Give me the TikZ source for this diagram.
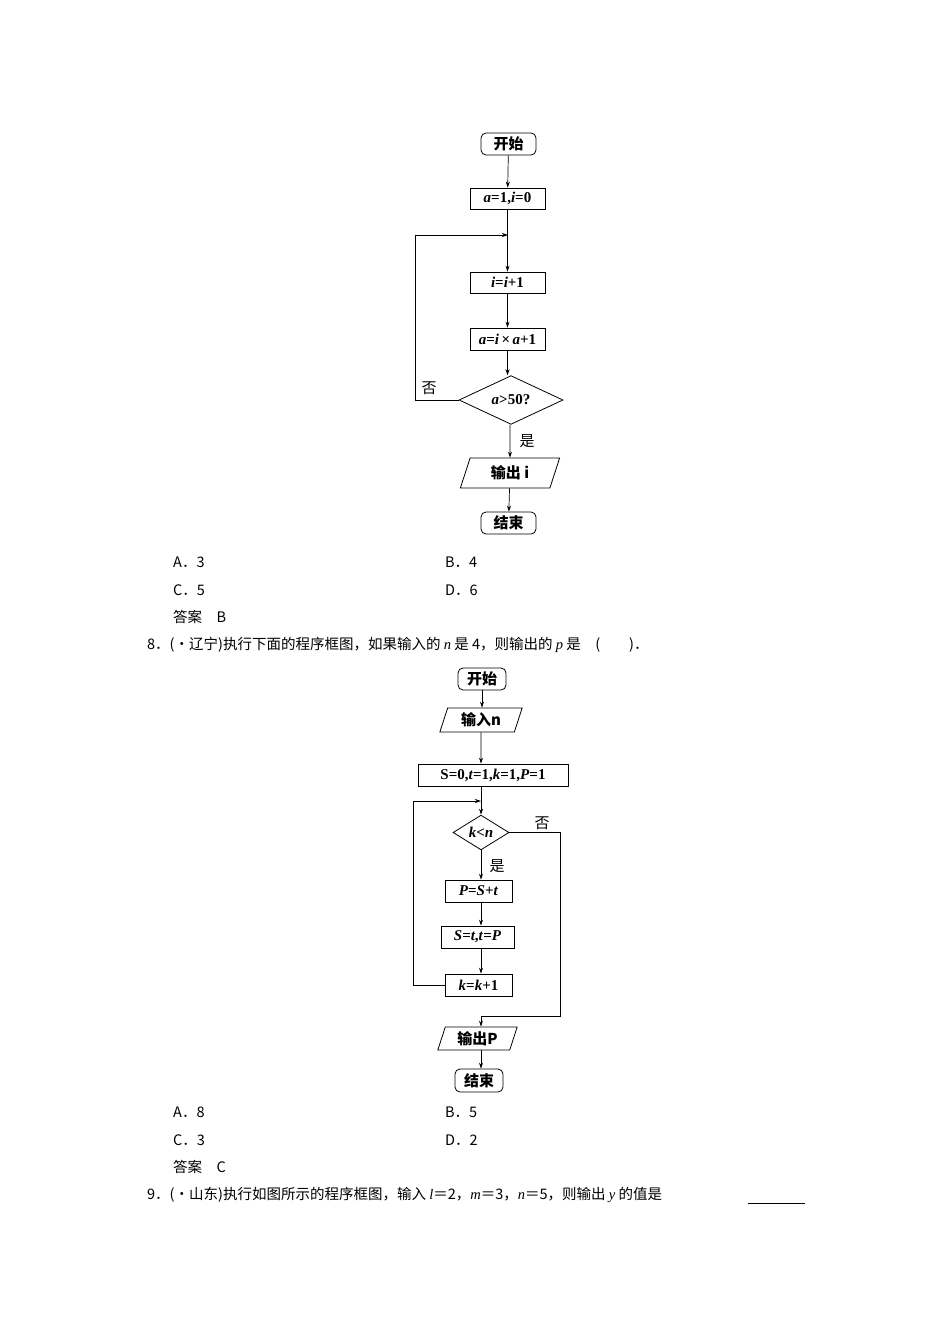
\documentclass[tikz,border=0pt]{standalone}
\usepackage{fontspec}
\setmainfont{Liberation Serif}
\newfontfamily\cjk{Noto Sans CJK SC}
\usetikzlibrary{shapes.geometric,arrows.meta}
\begin{document}
\begin{tikzpicture}[x=1pt,y=-1pt,
  every node/.style={font=\fontsize{15}{16}\selectfont\bfseries},
  box/.style={draw,line width=0.8pt,inner sep=0pt},
  term/.style={box,rounded corners=5pt},
  io/.style={box,trapezium,trapezium left angle=72,trapezium right angle=108,minimum height=24pt},
  dec/.style={box,diamond,aspect=2.2},
  ar/.style={line width=0.7pt,-{Stealth[length=6pt,width=4pt]}},
  ln/.style={line width=0.7pt},
  txt/.style={font=\fontsize{14.5}{16}\selectfont\cjk,anchor=west,inner sep=0pt}]
\useasboundingbox (0,0) rectangle (950,1344);
% chart 1
\node[term,minimum width=55pt,minimum height=22pt] (s1) at (508.5,144) {\cjk 开始};
\node[box,minimum width=75pt,minimum height=21pt] (a1) at (507.5,198.5) {\textit{a}=1,\textit{i}=0};
\coordinate (j1) at (508,235);
\coordinate (l1) at (415,235);
\node[box,minimum width=75pt,minimum height=21pt] (b1) at (507.5,282.5) {\textit{i}=\textit{i}+1};
\node[box,minimum width=75pt,minimum height=22pt] (c1) at (507.5,339) {\textit{a}=\textit{i}\,×\,\textit{a}+1};
\node[box,diamond,minimum width=104pt,minimum height=46pt,inner sep=0pt] (d1) at (511,400) {\textit{a}>50?};
\node[io,minimum width=66pt,minimum height=30pt] (o1) at (510,473) {\cjk 输出 \textit{i}};
\node[term,minimum width=55pt,minimum height=22pt] (e1) at (508.5,523) {\cjk 结束};
\draw[ar] (s1) -- (a1);
\draw[ar] (a1) -- (b1);
\draw[ar] (b1) -- (c1);
\draw[ar] (c1) -- (c1|-d1.north);
\draw[ar] (d1.south-|o1) -- (o1);
\draw[ar] (o1) -- (e1);
\draw[ar] (d1.west) -| (l1) -- (j1);
\node[font=\fontsize{15}{16}\selectfont\cjk] at (429,388) {否};
\node[font=\fontsize{15}{16}\selectfont\cjk] at (527,441) {是};
% options 1
\node[txt] at (173,562) {A．3};
\node[txt] at (445,562) {B．4};
\node[txt] at (173,590) {C．5};
\node[txt] at (445,590) {D．6};
\node[txt] at (173,617) {答案\quad B};
\node[txt] at (147,645) {8．(·辽宁)执行下面的程序框图，如果输入的 {\rmfamily\itshape n} 是 4，则输出的 {\rmfamily\itshape p} 是\quad(\qquad)．};
% chart 2
\node[term,minimum width=48pt,minimum height=22pt] (s2) at (482,679) {\cjk 开始};
\node[io,minimum width=62pt,minimum height=24pt] (i2) at (481,720) {\cjk 输入\textit{n}};
\node[box,minimum width=150pt,minimum height=22pt] (a2) at (493,775) {S=0,\textit{t}=1,\textit{k}=1,\textit{P}=1};
\coordinate (j2) at (481,801);
\coordinate (l2) at (413,801);
\node[box,diamond,minimum width=56pt,minimum height=29pt,inner sep=0pt] (d2) at (481,832.5) {\textit{k}<\textit{n}};
\node[box,minimum width=67pt,minimum height=22pt] (p2) at (478.5,891) {\textit{P}=\textit{S}+\textit{t}};
\node[box,minimum width=73pt,minimum height=22pt] (q2) at (477.5,937) {\textit{S}=\textit{t},\textit{t}=\textit{P}};
\node[box,minimum width=67pt,minimum height=22pt] (k2) at (478.5,985) {\textit{k}=\textit{k}+1};
\node[io,minimum width=64pt,minimum height=23pt] (o2) at (477.5,1038.5) {\cjk 输出\textit{P}};
\node[term,minimum width=48pt,minimum height=23pt] (e2) at (479,1080.5) {\cjk 结束};
\coordinate (r2) at (560,1016);
\draw[ar] (s2) -- (s2|-i2.north);
\draw[ar] (i2) -- (i2|-a2.north);
\draw[ar] (a2.south-|d2) -- (d2);
\draw[ar] (d2) -- (d2|-p2.north);
\draw[ar] (p2.south-|d2) -- (d2|-q2.north);
\draw[ar] (q2.south-|d2) -- (d2|-k2.north);
\draw[ar] (k2.west) -| (l2) -- (j2);
\draw[ar] (d2.east) -| (r2) -- (r2-|d2) -- (d2|-o2.north);
\draw[ar] (o2.south-|d2) -- (d2|-e2.north);
\node[font=\fontsize{15}{16}\selectfont\cjk] at (542,823) {否};
\node[font=\fontsize{15}{16}\selectfont\cjk] at (497,866) {是};
% options 2
\node[txt] at (173,1112) {A．8};
\node[txt] at (445,1112) {B．5};
\node[txt] at (173,1140) {C．3};
\node[txt] at (445,1140) {D．2};
\node[txt] at (173,1167) {答案\quad C};
\node[txt] (n9) at (147,1195) {9．(·山东)执行如图所示的程序框图，输入 {\rmfamily\itshape l}＝2，{\rmfamily\itshape m}＝3，{\rmfamily\itshape n}＝5，则输出 {\rmfamily\itshape y} 的值是};
\draw[line width=0.5pt] (748,1203) -- (805,1203);
\end{tikzpicture}
\end{document}
